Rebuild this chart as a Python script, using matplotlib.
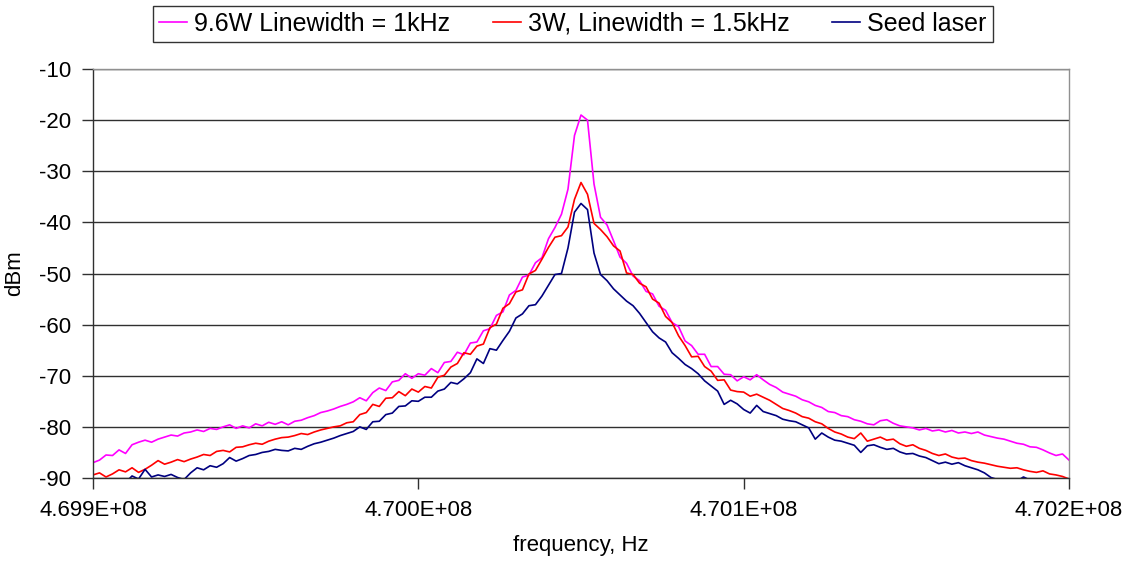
import numpy as np
import matplotlib
matplotlib.use("Agg")
import matplotlib.pyplot as plt
from matplotlib.ticker import FuncFormatter

plt.rcParams["font.family"] = ["Liberation Sans", "DejaVu Sans"]
plt.rcParams["axes.unicode_minus"] = False

# ================================
# DATA
# ================================
# sweep: 469.90 MHz -> 470.20 MHz, 2 kHz steps (151 points)
F_START = 469.90e6
F_STOP = 470.20e6
N_POINTS = 151

power_9w6 = [
    -87.0, -86.5, -85.5, -85.6, -84.5, -85.2, -83.5, -83.0, -82.6, -83.0,
    -82.4, -82.0, -81.6, -81.8, -81.2, -81.0, -80.6, -80.9, -80.3, -80.5,
    -80.0, -79.6, -80.3, -79.8, -80.2, -79.4, -79.8, -79.1, -79.5, -79.0,
    -79.6, -78.9, -78.7, -78.2, -77.8, -77.2, -76.9, -76.5, -76.0, -75.6,
    -75.1, -74.3, -74.9, -73.3, -72.4, -72.9, -71.2, -70.9, -69.6, -70.5,
    -69.6, -69.9, -68.6, -69.4, -67.4, -67.2, -65.4, -65.9, -63.6, -63.4,
    -61.2, -60.8, -58.2, -57.5, -54.2, -53.3, -50.7, -50.3, -47.9, -46.9,
    -43.2, -41.0, -38.4, -33.5, -23.0, -19.0, -20.0, -32.5, -39.0, -40.5,
    -43.6, -46.8, -48.0, -50.5, -51.4, -53.5, -54.0, -56.4, -57.2, -59.6,
    -60.4, -63.2, -64.1, -65.8, -65.8, -68.2, -68.2, -69.7, -69.8, -71.0,
    -70.2, -70.8, -69.8, -70.8, -71.7, -72.3, -73.2, -73.6, -74.0, -74.7,
    -75.1, -75.8, -76.2, -77.0, -77.2, -77.8, -78.0, -78.6, -78.9, -79.4,
    -79.6, -78.8, -78.6, -79.3, -79.8, -80.0, -80.2, -80.6, -80.3, -80.8,
    -80.6, -81.0, -80.7, -81.2, -81.0, -81.3, -81.0, -81.6, -81.9, -82.2,
    -82.4, -82.8, -83.2, -83.4, -83.9, -84.0, -84.5, -85.1, -85.6, -85.3,
    -86.5,
]

power_3w = [
    -89.4, -89.0, -89.8, -89.2, -88.4, -88.8, -88.0, -88.9, -88.3, -87.5,
    -86.6, -87.3, -86.9, -86.4, -86.8, -86.3, -85.9, -85.4, -85.6, -84.8,
    -84.6, -84.9, -84.0, -83.9, -83.5, -83.2, -83.4, -82.8, -82.4, -82.1,
    -82.0, -81.7, -81.3, -81.5, -81.0, -80.6, -80.3, -80.0, -79.8, -79.2,
    -79.0, -77.6, -77.2, -75.6, -76.0, -74.4, -74.3, -73.1, -73.9, -72.6,
    -73.2, -72.1, -72.4, -70.3, -69.9, -68.3, -67.6, -65.5, -65.8, -64.2,
    -63.8, -60.6, -59.9, -56.8, -55.9, -53.6, -53.2, -50.1, -49.4, -47.2,
    -44.9, -42.9, -42.6, -40.9, -35.5, -32.2, -34.5, -40.2, -41.4, -42.8,
    -44.6, -45.6, -49.9, -50.2, -51.9, -52.6, -55.0, -55.8, -58.4, -59.6,
    -62.2, -64.1, -66.3, -66.2, -68.2, -69.1, -70.9, -70.8, -72.8, -73.1,
    -73.2, -74.0, -73.6, -74.2, -74.8, -75.6, -76.4, -76.8, -77.3, -78.0,
    -78.3, -79.0, -79.4, -80.3, -81.0, -81.4, -82.0, -82.3, -81.2, -82.8,
    -82.4, -82.0, -82.6, -82.4, -83.3, -83.8, -83.5, -84.2, -84.6, -85.2,
    -85.6, -85.3, -85.9, -86.2, -86.1, -86.6, -86.9, -87.1, -87.4, -87.7,
    -87.9, -88.1, -88.0, -88.4, -88.7, -88.9, -88.6, -89.2, -89.4, -89.7,
    -90.2,
]

power_seed = [
    -90.8, -91.2, -90.6, -91.0, -90.4, -90.9, -89.6, -90.2, -88.3, -89.8,
    -89.4, -89.7, -89.3, -89.9, -90.3, -89.0, -88.0, -88.4, -87.6, -87.9,
    -87.2, -86.0, -86.7, -86.2, -85.6, -85.4, -85.0, -84.8, -84.4, -84.6,
    -84.7, -84.2, -84.4, -83.8, -83.3, -83.0, -82.6, -82.2, -81.7, -81.3,
    -80.9, -80.0, -80.5, -79.0, -78.9, -77.6, -77.3, -76.0, -75.9, -74.9,
    -75.0, -74.2, -74.2, -73.0, -72.6, -71.3, -71.6, -70.6, -69.4, -66.7,
    -67.6, -64.7, -65.0, -63.1, -61.3, -58.7, -57.9, -56.3, -56.1, -54.4,
    -52.3, -50.2, -50.0, -45.0, -38.0, -36.3, -37.5, -46.0, -50.2, -51.4,
    -53.0, -54.2, -55.4, -56.3, -57.8, -59.6, -61.4, -62.6, -63.4, -65.5,
    -66.6, -67.8, -68.6, -69.6, -71.0, -72.0, -73.0, -75.6, -74.8, -75.5,
    -76.6, -77.3, -75.8, -77.0, -77.4, -77.8, -78.5, -78.8, -79.0, -79.6,
    -80.2, -82.4, -81.2, -82.0, -82.6, -82.8, -83.2, -83.6, -85.0, -83.7,
    -83.5, -84.0, -84.4, -84.2, -84.9, -85.3, -85.2, -85.7, -86.0, -86.6,
    -87.2, -86.9, -87.3, -87.0, -87.6, -88.0, -88.4, -89.0, -89.9, -90.3,
    -90.5, -90.2, -90.6, -89.8, -90.4, -91.0, -91.2, -90.8, -91.3, -91.0,
    -91.4,
]

series_labels = ["9.6W Linewidth = 1kHz", "3W, Linewidth = 1.5kHz", "Seed laser"]
series_colors = ["#FF00FF", "#FF0000", "#000080"]

x_ticks = [4.699e8, 4.700e8, 4.701e8, 4.702e8]
y_ticks = [-90, -80, -70, -60, -50, -40, -30, -20, -10]


def main():
    freq = np.linspace(F_START, F_STOP, N_POINTS)

    fig = plt.figure(figsize=(11.27, 5.61), dpi=100)
    ax = fig.add_axes([93 / 1127, 1 - 478 / 561, (1069 - 93) / 1127, (478 - 69) / 561])

    for vals, lab, col in zip([power_9w6, power_3w, power_seed], series_labels, series_colors):
        ax.plot(freq, vals, color=col, lw=1.2, label=lab, clip_on=True)

    ax.set_xlim(x_ticks[0], x_ticks[-1])
    ax.set_ylim(-90, -10)
    ax.set_xticks(x_ticks)
    ax.set_yticks(y_ticks)
    ax.xaxis.set_major_formatter(FuncFormatter(lambda v, p: "%.3E" % v))

    # horizontal gridlines only, Excel style
    ax.yaxis.grid(True, color="#303030", lw=1.0)
    ax.set_axisbelow(True)

    for side in ["left", "bottom"]:
        ax.spines[side].set_color("#303030")
        ax.spines[side].set_linewidth(1.0)
    for side in ["top", "right"]:
        ax.spines[side].set_color("#909090")
        ax.spines[side].set_linewidth(1.0)

    ax.tick_params(axis="both", direction="out", length=8, width=1.0,
                   color="#303030")
    ax.tick_params(axis="y", labelsize=16, pad=8)
    ax.tick_params(axis="x", labelsize=16, pad=8)

    ax.set_ylabel("dBm", fontsize=16, labelpad=10)
    ax.set_xlabel("frequency, Hz", fontsize=16, labelpad=10)

    leg = fig.legend(loc="center", bbox_to_anchor=(573 / 1127, 1 - 24 / 561),
                     ncol=3, fontsize=18, frameon=True, fancybox=False,
                     handlelength=1.1, handletextpad=0.3, columnspacing=1.7,
                     borderpad=0.25, borderaxespad=0.0)
    leg.get_frame().set_edgecolor("black")
    leg.get_frame().set_linewidth(1.0)

    fig.savefig("out.png", dpi=100)


if __name__ == "__main__":
    main()
